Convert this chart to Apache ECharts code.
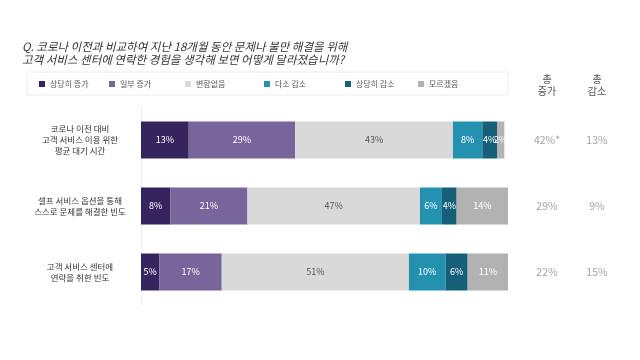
<!DOCTYPE html>
<html><head><meta charset="utf-8">
<script src="https://cdn.jsdelivr.net/npm/echarts@6/dist/echarts.min.js"></script>
<style>html,body{margin:0;padding:0;background:#fff}#c{width:640px;height:360px}</style>
</head><body><div id="c"></div>
<script>
const titleText = 'Q. 코로나 이전과 비교하여 지난 18개월 동안 문제나 불만 해결을 위해\n고객 서비스 센터에 연락한 경험을 생각해 보면 어떻게 달라졌습니까?';
const categories = ['코로나 이전 대비\n고객 서비스 이용 위한\n평균 대기 시간', '셀프 서비스 옵션을 통해\n스스로 문제를 해결한 빈도', '고객 서비스 센터에\n연락을 취한 빈도'];
const seriesNames = ['상당히 증가', '일부 증가', '변함없음', '다소 감소', '상당히 감소', '모르겠음'];
const muchIncrease = [13, 8, 5];
const someIncrease = [29, 21, 17];
const noChange = [43, 47, 51];
const someDecrease = [8, 6, 10];
const muchDecrease = [4, 4, 6];
const dontKnow = [2, 14, 11];
const totalHeaders = ['총\n증가', '총\n감소'];
const totalIncrease = ['42%*', '29%', '22%'];
const totalDecrease = ['13%', '9%', '15%'];

const colors = ['#36245e', '#77659b', '#d9d9d9', '#2591b1', '#165f78', '#b2b2b2'];
const labelColors = ['#fff', '#fff', '#555', '#fff', '#fff', '#fff'];
const values = [muchIncrease, someIncrease, noChange, someDecrease, muchDecrease, dontKnow];
const legendX = [34, 104, 180, 259, 340, 413];
const font = '"Noto Sans CJK KR", "Noto Sans", sans-serif';

const chart = echarts.init(document.getElementById('c'));
const barSeries = seriesNames.map((n, i) => ({
  name: n, type: 'bar', stack: 'all', barWidth: 37,
  xAxisIndex: 0, yAxisIndex: 0,
  itemStyle: { color: colors[i] },
  label: { show: true, position: 'inside', color: labelColors[i], fontSize: 9, fontFamily: font, formatter: p => p.value + '%' },
  data: values[i]
}));
const totalSeries = [totalIncrease, totalDecrease].map((arr, k) => ({
  type: 'scatter', xAxisIndex: 1, yAxisIndex: 1, symbolSize: 0, silent: true,
  label: { show: true, position: 'inside', color: '#8a8a8a', fontSize: 10.5, fontFamily: font, formatter: p => arr[p.dataIndex] },
  data: categories.map((c, r) => [totalHeaders[k], c])
}));

chart.setOption({
  animation: false,
  title: { text: titleText, left: 17, top: 35, textStyle: { fontSize: 11.5, fontStyle: 'italic', fontWeight: 'normal', color: '#333', lineHeight: 13, fontFamily: font } },
  graphic: [{ type: 'rect', shape: { x: 27, y: 72, width: 481, height: 23 }, style: { fill: 'none', stroke: '#ececec', lineWidth: 1 } }],
  legend: seriesNames.map((n, i) => ({
    data: [n], left: legendX[i], top: 75, itemWidth: 6, itemHeight: 6, itemGap: 4,
    icon: 'rect', textStyle: { fontSize: 8, color: '#555', fontFamily: font }, selectedMode: false
  })),
  grid: [
    { left: 141, right: 132, top: 107, bottom: 55 },
    { left: 522, width: 100, top: 107, bottom: 55 }
  ],
  xAxis: [
    { type: 'value', min: 0, max: 100, gridIndex: 0, show: false },
    { type: 'category', gridIndex: 1, data: totalHeaders, position: 'top',
      axisLine: { show: false }, axisTick: { show: false },
      axisLabel: { margin: 10, fontSize: 10, color: '#555', lineHeight: 12, fontFamily: font } }
  ],
  yAxis: [
    { type: 'category', gridIndex: 0, data: categories, inverse: true,
      axisLine: { show: true, lineStyle: { color: '#eeeeee' } }, axisTick: { show: false },
      axisLabel: { align: 'center', margin: 61, fontSize: 8.5, color: '#333', lineHeight: 11, fontFamily: font } },
    { type: 'category', gridIndex: 1, data: categories, inverse: true, show: false }
  ],
  series: barSeries.concat(totalSeries)
});
</script></body></html>
